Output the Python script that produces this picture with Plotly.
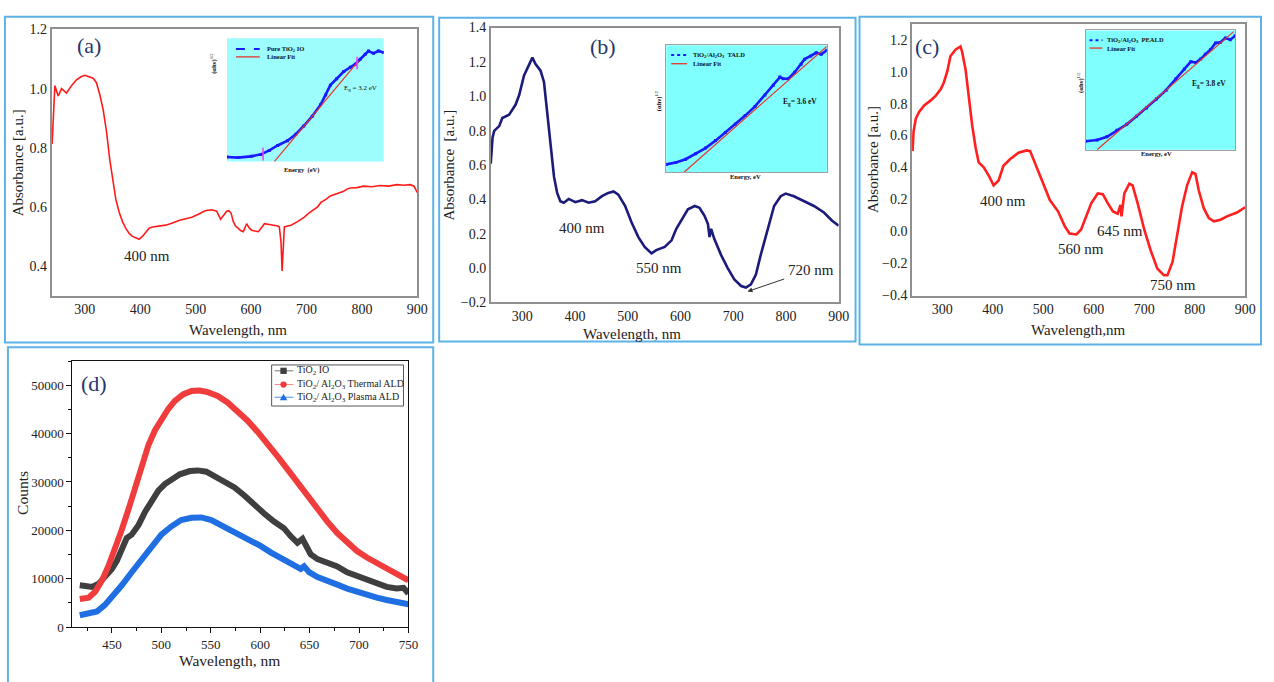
import plotly.graph_objects as go

# ---------------- data ----------------
# (a) UV-vis absorbance, pure TiO2 IO
wl_a = [241, 244, 246, 252, 258, 267, 276, 285, 293, 300, 309, 315, 321, 327, 333, 339, 345,
        351, 356, 362, 368, 374, 380, 386, 392, 398, 404, 410, 416, 422, 434, 446, 458, 470,
        482, 493, 505, 517, 529, 538, 545, 551, 556, 560, 564, 568, 572, 577, 581, 586, 592,
        596, 601, 607, 613, 619, 624, 633, 642, 648, 651, 654, 656, 658, 660, 666, 672, 684,
        696, 705, 714, 720, 726, 735, 743, 755, 767, 773, 779, 791, 803, 818, 833, 848, 863,
        875, 887, 894, 900]
abs_a = [0.813, 0.945, 1.01, 0.975, 1.0, 0.985, 1.01, 1.03, 1.04, 1.045, 1.04, 1.035, 1.02,
         0.98, 0.93, 0.857, 0.76, 0.68, 0.625, 0.582, 0.55, 0.527, 0.51, 0.50, 0.495, 0.49,
         0.50, 0.516, 0.528, 0.532, 0.535, 0.538, 0.545, 0.554, 0.56, 0.565, 0.575, 0.587,
         0.59, 0.585, 0.558, 0.575, 0.585, 0.587, 0.578, 0.55, 0.535, 0.527, 0.52, 0.516,
         0.543, 0.53, 0.521, 0.518, 0.516, 0.53, 0.543, 0.54, 0.538, 0.535, 0.532, 0.48,
         0.383, 0.48, 0.532, 0.535, 0.538, 0.55, 0.565, 0.58, 0.593, 0.6, 0.615, 0.625, 0.637,
         0.645, 0.653, 0.66, 0.664, 0.665, 0.67, 0.668, 0.672, 0.67, 0.675, 0.673, 0.675,
         0.67, 0.648]

# (b) UV-vis absorbance, TiO2/Al2O3 thermal ALD
wl_b = [240, 243.5, 246.6, 256, 262, 275, 287, 294, 303, 313, 319, 325, 334.5, 341, 347, 353,
        360, 366, 372, 378.5, 388, 400.5, 413, 425.7, 438, 451, 463, 473, 482, 495, 507, 520,
        532, 545, 554, 570, 583, 592, 601.5, 614, 627, 636, 645.5, 652, 655, 658, 664, 677,
        689.5, 702, 715, 724, 733.5, 743, 752, 765, 777.5, 790, 799.5, 815, 834, 853, 872,
        887.5, 900]
abs_b = [0.608, 0.76, 0.798, 0.826, 0.873, 0.893, 0.95, 1.007, 1.12, 1.187, 1.225, 1.187,
         1.149, 1.083, 0.912, 0.703, 0.532, 0.437, 0.389, 0.38, 0.402, 0.383, 0.395, 0.38,
         0.389, 0.418, 0.437, 0.446, 0.427, 0.361, 0.266, 0.18, 0.123, 0.085, 0.104, 0.123,
         0.161, 0.228, 0.275, 0.342, 0.361, 0.351, 0.304, 0.256, 0.18, 0.228, 0.17, 0.075,
         -0.0005, -0.067, -0.105, -0.114, -0.095, -0.038, 0.075, 0.228, 0.361, 0.418, 0.433,
         0.418, 0.389, 0.361, 0.323, 0.275, 0.247]

# (c) UV-vis absorbance, TiO2/Al2O3 plasma-enhanced ALD
wl_c = [241, 243, 247.5, 254, 264, 277, 287, 297, 303, 310, 316, 326, 336, 339, 346, 352, 359,
        366, 372, 382, 392, 401.6, 411.5, 421, 434, 451, 467, 474, 487, 500, 513, 529.5,
        542.6, 552, 565.6, 575, 585, 595, 608, 618, 628, 638, 647.5, 653, 655, 660.6, 670.5,
        677, 687, 700, 713, 726, 739, 746, 756, 765.6, 775, 785, 795, 801.6, 808, 818, 828,
        838, 851, 864, 883.6, 900]
abs_c = [0.503, 0.626, 0.708, 0.748, 0.789, 0.82, 0.85, 0.891, 0.932, 1.004, 1.096, 1.137,
         1.157, 1.126, 1.014, 0.85, 0.667, 0.524, 0.432, 0.401, 0.35, 0.289, 0.319, 0.411,
         0.452, 0.493, 0.507, 0.503, 0.401, 0.299, 0.197, 0.125, 0.033, -0.012, -0.018,
         0.013, 0.095, 0.176, 0.238, 0.234, 0.176, 0.125, 0.111, 0.166, 0.095, 0.238, 0.299,
         0.289, 0.176, 0.013, -0.12, -0.232, -0.273, -0.273, -0.192, -0.028, 0.156, 0.289,
         0.37, 0.36, 0.258, 0.146, 0.084, 0.064, 0.074, 0.095, 0.119, 0.152]

# (d) photoluminescence spectra
wl_d_io = [417.5, 423, 430, 436.6, 443, 450, 455, 460, 465, 470, 477, 483.5, 490, 497, 503.6,
           510, 518.7, 528.8, 537, 545.5, 554, 564, 574, 584, 594, 604, 614, 624, 631, 637.7,
           642.8, 646, 651, 658, 668, 678, 688, 698, 708, 718, 728, 738, 745, 750]
cts_d_io = [8640, 8430, 8300, 8975, 10320, 12010, 13700, 16060, 18420, 19100, 21120, 23820,
            26180, 28200, 29560, 30570, 31580, 32250, 32390, 32120, 31240, 30230, 28880, 27190,
            25170, 23480, 21800, 20450, 18760, 17410, 18220, 16730, 15050, 14040, 13230, 12550,
            11340, 10530, 9850, 8975, 8300, 7960, 8100, 6950]

wl_d_th = [417.5, 426.5, 433, 440, 446.6, 453, 460, 467, 473.5, 480, 487, 493.6, 500, 507,
           513.7, 522, 530.5, 538.8, 547, 557, 567, 577, 587, 597.5, 607.5, 617.6, 627.7,
           637.7, 647.8, 658, 668, 678, 688, 698, 708, 718, 728, 738, 750]
cts_d_th = [5800, 6070, 7290, 9650, 12690, 16060, 20110, 24500, 28880, 33600, 37650, 40690,
            43050, 45080, 46760, 48110, 48790, 48920, 48580, 47780, 46430, 44740, 42720, 40350,
            37990, 35290, 32590, 29890, 26860, 24160, 21800, 19430, 17410, 15720, 14370, 13360,
            12010, 11000, 9650]

wl_d_pl = [417.5, 426.5, 435, 443, 451.7, 460, 470, 480, 490, 500, 510, 520, 530.5, 540.5,
           550.6, 560.6, 570.7, 580.7, 590.8, 600.8, 611, 621, 631, 641, 644.4, 649.5, 658,
           668, 678, 688, 698, 708, 718, 728, 738, 750]
cts_d_pl = [2430, 2700, 3240, 4590, 6610, 8640, 11340, 14040, 16730, 19100, 20780, 22130, 22610,
            22670, 22130, 21120, 19770, 18760, 17750, 16730, 15390, 14370, 13020, 12010, 12550,
            11340, 10320, 9650, 8770, 7960, 7290, 6610, 6070, 5600, 5130, 4720]

# Tauc-plot insets (relative energy / relative (ahv)^1/2)
tauc_e_a = [0, 0.07, 0.154, 0.217, 0.27, 0.323, 0.386, 0.439, 0.49, 0.544, 0.597, 0.63, 0.66,
            0.70, 0.745, 0.787, 0.819, 0.85, 0.882, 0.903, 0.935, 0.966, 1.0]
tauc_y_a = [0.037, 0.032, 0.042, 0.058, 0.09, 0.13, 0.169, 0.222, 0.288, 0.368, 0.46, 0.54,
            0.62, 0.672, 0.73, 0.765, 0.79, 0.83, 0.87, 0.897, 0.878, 0.897, 0.884]
fit_e_a = [0.302, 0.84]
fit_y_a = [0.0, 0.817]
marks_e_a = [0.23, 0.83]
marks_y_a = [0.06, 0.80]

tauc_e_b = [0, 0.06, 0.121, 0.183, 0.245, 0.307, 0.368, 0.43, 0.492, 0.553, 0.615, 0.667,
            0.708, 0.728, 0.76, 0.8, 0.84, 0.862, 0.9, 0.934, 0.965, 1.0]
tauc_y_b = [0.062, 0.077, 0.103, 0.146, 0.19, 0.249, 0.313, 0.377, 0.446, 0.518, 0.608, 0.685,
            0.749, 0.736, 0.736, 0.787, 0.85, 0.89, 0.915, 0.94, 0.928, 0.96]
fit_e_b = [0.111, 1.0]
fit_y_b = [0.0, 0.99]

tauc_e_c = [0, 0.077, 0.143, 0.209, 0.275, 0.34, 0.407, 0.473, 0.538, 0.604, 0.66, 0.703,
            0.736, 0.769, 0.8, 0.835, 0.868, 0.9, 0.934, 0.967, 1.0]
tauc_y_c = [0.071, 0.082, 0.109, 0.164, 0.213, 0.281, 0.35, 0.426, 0.5, 0.596, 0.678, 0.738,
            0.732, 0.76, 0.8, 0.84, 0.896, 0.9, 0.937, 0.923, 0.956]
fit_e_c = [0.077, 0.989]
fit_y_c = [0.0, 0.99]

uv_ticks = [300, 400, 500, 600, 700, 800, 900]
pl_ticks = [450, 500, 550, 600, 650, 700, 750]

# ---------------- layout helpers ----------------
W, H = 1274, 682
SERIF = "Liberation Serif"
TXT = "#222222"


def dx(x0, x1):
    return [x0 / W, x1 / W]


def dy(y0, y1):
    return [1 - y1 / H, 1 - y0 / H]


def px(x):
    return x / W


def py(y):
    return 1 - y / H


fig = go.Figure()

# main spectra
fig.add_trace(go.Scatter(x=wl_a, y=abs_a, mode="lines", line=dict(color="#ff1a1a", width=1.6),
                         xaxis="x", yaxis="y"))
fig.add_trace(go.Scatter(x=wl_b, y=abs_b, mode="lines", line=dict(color="#1b1b7a", width=2.6),
                         xaxis="x2", yaxis="y2"))
fig.add_trace(go.Scatter(x=wl_c, y=abs_c, mode="lines", line=dict(color="#ff1f1f", width=2.6),
                         xaxis="x3", yaxis="y3"))

# PL curves
pl_series = [
    (wl_d_io, cts_d_io, "#3f3f3f", "#777777", "square", "TiO<sub>2</sub> IO"),
    (wl_d_th, cts_d_th, "#f03c3c", "#ff8a8a", "circle",
     "TiO<sub>2</sub>/ Al<sub>2</sub>O<sub>3</sub> Thermal ALD"),
    (wl_d_pl, cts_d_pl, "#1f6fe3", "#4a8ff0", "triangle",
     "TiO<sub>2</sub>/ Al<sub>2</sub>O<sub>3</sub> Plasma ALD"),
]
for xs, ys, col, lcol, sym, name in pl_series:
    fig.add_trace(go.Scatter(x=xs, y=ys, mode="lines", line=dict(color=col, width=6),
                             xaxis="x4", yaxis="y4"))

# insets
insets = [
    ("x5", "y5", tauc_e_a, tauc_y_a, fit_e_a, fit_y_a),
    ("x6", "y6", tauc_e_b, tauc_y_b, fit_e_b, fit_y_b),
    ("x7", "y7", tauc_e_c, tauc_y_c, fit_e_c, fit_y_c),
]
for xa, ya, te, ty, fe, fy in insets:
    fig.add_trace(go.Scatter(x=te, y=ty, mode="lines+markers",
                             line=dict(color="#1a1aff", width=2.6),
                             marker=dict(symbol="square", size=3, color="#1a1aff"),
                             xaxis=xa, yaxis=ya))
    fig.add_trace(go.Scatter(x=fe, y=fy, mode="lines", line=dict(color="#e8332a", width=1.2),
                             xaxis=xa, yaxis=ya))
fig.add_trace(go.Scatter(x=marks_e_a, y=marks_y_a, mode="markers",
                         marker=dict(symbol="line-ns", size=9, line=dict(color="#ff33ff", width=1.5)),
                         xaxis="x5", yaxis="y5"))

# ---------------- axes ----------------
tickf = dict(family=SERIF, size=14, color=TXT)


def uv_x(dom, anchor):
    return dict(domain=dom, anchor=anchor, range=[240, 900], tickvals=uv_ticks, showgrid=False,
                zeroline=False, showline=True, linecolor="#8f8f8f", linewidth=1.5, mirror=True,
                ticks="", tickfont=tickf)


def uv_y(dom, anchor, rng):
    return dict(domain=dom, anchor=anchor, range=rng, dtick=0.2, tick0=0, tickformat=".1f",
                showgrid=False, zeroline=False, showline=True, linecolor="#8f8f8f", linewidth=1.5,
                mirror=True, ticks="", tickfont=tickf)


def inset_axes(domx, domy, anchx, anchy, framed):
    lc = "#a0a0a0" if framed else "rgba(0,0,0,0)"
    common = dict(range=[0, 1], showgrid=False, zeroline=False, showticklabels=False, ticks="",
                  showline=True, linecolor=lc, linewidth=1, mirror=True)
    return dict(domain=domx, anchor=anchy, **common), dict(domain=domy, anchor=anchx, **common)


axes = {
    "xaxis": uv_x(dx(52, 421), "y"),
    "yaxis": uv_y(dy(23, 295), "x", [0.3, 1.2]),
    "xaxis2": uv_x(dx(495, 846), "y2"),
    "yaxis2": uv_y(dy(21, 302), "x2", [-0.2, 1.4]),
    "xaxis3": uv_x(dx(920, 1256), "y3"),
    "yaxis3": uv_y(dy(17, 295), "x3", [-0.4, 1.3]),
    "xaxis4": dict(domain=dx(73, 412), anchor="y4", range=[410, 750], tickvals=pl_ticks,
                   showgrid=False, zeroline=False, showline=True, linecolor="#111",
                   linewidth=1.2, mirror=True, ticks="outside", ticklen=5, tickcolor="#111",
                   minor=dict(ticks="outside", ticklen=3, dtick=25, tick0=425, tickcolor="#111"),
                   tickfont=dict(family=SERIF, size=13, color=TXT)),
    "yaxis4": dict(domain=dy(362, 634), anchor="x4", range=[0, 55000], dtick=10000,
                   tickformat="d", showgrid=False, zeroline=False, showline=True,
                   linecolor="#111", linewidth=1.2, mirror=True, ticks="outside", ticklen=5,
                   tickcolor="#111",
                   minor=dict(ticks="outside", ticklen=3, dtick=5000, tickcolor="#111"),
                   tickfont=dict(family=SERIF, size=13, color=TXT)),
}
for n, (x0, x1, y0, y1, framed) in zip([5, 6, 7], [(229, 387, 32, 158, False),
                                                   (672, 834, 39, 169, True),
                                                   (1095, 1246, 24, 146, True)]):
    ax, ay = inset_axes(dx(x0, x1), dy(y0, y1), f"x{n}", f"y{n}", framed)
    axes[f"xaxis{n}"] = ax
    axes[f"yaxis{n}"] = ay

fig.update_layout(**axes)
fig.update_layout(width=W, height=H, margin=dict(l=0, r=0, t=0, b=0), showlegend=False,
                  paper_bgcolor="white", plot_bgcolor="rgba(0,0,0,0)",
                  font=dict(family=SERIF, color=TXT))

shapes = []
# inset backgrounds
for xa, ya, colr in [("x5", "y5", "#9dfcfc"), ("x6", "y6", "#80ffff"), ("x7", "y7", "#80ffff")]:
    shapes.append(dict(type="rect", xref=f"{xa} domain", yref=f"{ya} domain", x0=0, x1=1, y0=0,
                       y1=1, fillcolor=colr, line=dict(width=0), layer="below"))

# panel frames
for x0, y0, x1, y1 in [(5, 10, 437, 343), (443, 11, 863, 342), (867, 10, 1272, 345),
                       (8, 348, 437, 700)]:
    shapes.append(dict(type="rect", xref="paper", yref="paper", x0=px(x0), x1=px(x1),
                       y0=py(y1), y1=py(y0), line=dict(color="#5db3e6", width=2),
                       fillcolor="rgba(0,0,0,0)"))


def seg(x0, x1, y, color, width, dash="solid"):
    return dict(type="line", xref="paper", yref="paper", x0=px(x0), x1=px(x1), y0=py(y), y1=py(y),
                line=dict(color=color, width=width, dash=dash))


ann = []


def text(t, x, y, size, color=TXT, xanchor="center", angle=0):
    ann.append(dict(text=t, x=px(x), y=py(y), xref="paper", yref="paper", showarrow=False,
                    xanchor=xanchor, yanchor="middle", textangle=angle,
                    font=dict(family=SERIF, size=size, color=color)))


# legend of panel (d)
shapes.append(dict(type="rect", xref="paper", yref="paper", x0=px(274), x1=px(407), y0=py(408),
                   y1=py(366), line=dict(color="#555", width=1), fillcolor="white"))
for (xs, ys, col, lcol, sym, name), yy in zip(pl_series, [372, 386, 399]):
    shapes.append(seg(277, 296, yy, lcol, 1))
    r = 3.2
    if sym == "square":
        shapes.append(dict(type="rect", xref="paper", yref="paper", x0=px(286 - r), x1=px(286 + r),
                           y0=py(yy + r), y1=py(yy - r), fillcolor=col, line=dict(width=0)))
    elif sym == "circle":
        shapes.append(dict(type="circle", xref="paper", yref="paper", x0=px(286 - r),
                           x1=px(286 + r), y0=py(yy + r), y1=py(yy - r), fillcolor=col,
                           line=dict(width=0)))
    else:
        path = (f"M {px(286 - 3.8)},{py(yy + 3)} L {px(286 + 3.8)},{py(yy + 3)} "
                f"L {px(286)},{py(yy - 3.6)} Z")
        shapes.append(dict(type="path", xref="paper", yref="paper", path=path, fillcolor=col,
                           line=dict(width=0)))
    text(name, 298, yy, 10, xanchor="left")

# inset legends
inset_leg = [
    (238, 262, 43, 51, 267, "dash", "Pure TiO<sub>2</sub> IO"),
    (677, 693, 49, 58, 697, "dot", "TiO<sub>2</sub>/Al<sub>2</sub>O<sub>3</sub>  TALD"),
    (1099, 1112, 34, 42, 1115, "dot", "TiO<sub>2</sub>/Al<sub>2</sub>O<sub>3</sub>  PEALD"),
]
for x0, x1, y1, y2, xt, dash, name in inset_leg:
    shapes.append(seg(x0, x1, y1, "#1a1aff", 2, dash))
    shapes.append(seg(x0, x1, y2, "#e8332a", 1.3))
    text(f"<b>{name}</b>", xt, y1, 6.5, color="#111", xanchor="left")
    text("<b>Linear Fit</b>", xt, y2, 6.5, color="#111", xanchor="left")

fig.update_layout(shapes=shapes)

# panel letters
for t, x, y in [("(a)", 90, 39), ("(b)", 608, 40), ("(c)", 935, 40), ("(d)", 95, 385)]:
    text(t, x, y, 22, color="#23386b")

# axis titles
text("Wavelength, nm", 240, 330, 15)
text("Absorbance [a.u.]", 18, 159, 15, angle=-90)
text("Wavelength, nm", 637, 334, 15)
text("Absorbance  [a.u.]", 453, 162, 15, angle=-90)
text("Wavelength,nm", 1088, 330, 15)
text("Absorbance [a.u.]", 880, 156, 15, angle=-90)
text("Wavelength, nm", 232, 668, 15.5)
text("Counts", 22, 497, 15.5, angle=-90)

# inset axis titles and band-gap values
text("<b>Energy  (eV)</b>", 304, 167, 6.5, color="#111")
text("<b>Energy, eV</b>", 752, 173, 6.5, color="#111")
text("<b>Energy, eV</b>", 1167, 150, 6.5, color="#111")
text("<b>(αhν)</b><sup>1/2</sup>", 216, 58, 6.5, color="#111", angle=-90)
text("<b>(αhν)</b><sup>1/2</sup>", 665, 96, 6.5, color="#111", angle=-90)
text("<b>(αhν)</b><sup>1/2</sup>", 1090, 77, 6.5, color="#111", angle=-90)
text("E<sub>g</sub> = 3.2 eV", 364, 83, 7, color="#111")
text("<b>E<sub>g</sub>= 3.6 eV</b>", 807, 97, 7.5, color="#111")
text("<b>E<sub>g</sub>= 3.8 eV</b>", 1220, 79, 7.5, color="#111")

# peak labels in data coordinates
peak_labels = [
    ("400 nm", 412.5, 0.433, "x", "y"),
    ("400 nm", 413, 0.232, "x2", "y2"),
    ("550 nm", 560, -0.002, "x2", "y2"),
    ("720 nm", 847, -0.013, "x2", "y2"),
    ("400 nm", 420, 0.194, "x3", "y3"),
    ("560 nm", 575.6, -0.107, "x3", "y3"),
    ("645 nm", 652, 0.004, "x3", "y3"),
    ("750 nm", 757, -0.334, "x3", "y3"),
]
for t, x, y, xr, yr in peak_labels:
    ann.append(dict(text=t, x=x, y=y, xref=xr, yref=yr, showarrow=False, xanchor="center",
                    yanchor="middle", font=dict(family=SERIF, size=15, color=TXT)))
ann.append(dict(text="", x=727, y=-0.137, ax=799.5, ay=-0.061, xref="x2", yref="y2",
                axref="x2", ayref="y2", showarrow=True, arrowhead=2, arrowsize=1, arrowwidth=1,
                arrowcolor="#333"))

fig.update_layout(annotations=ann)

fig.write_html("out.html")
